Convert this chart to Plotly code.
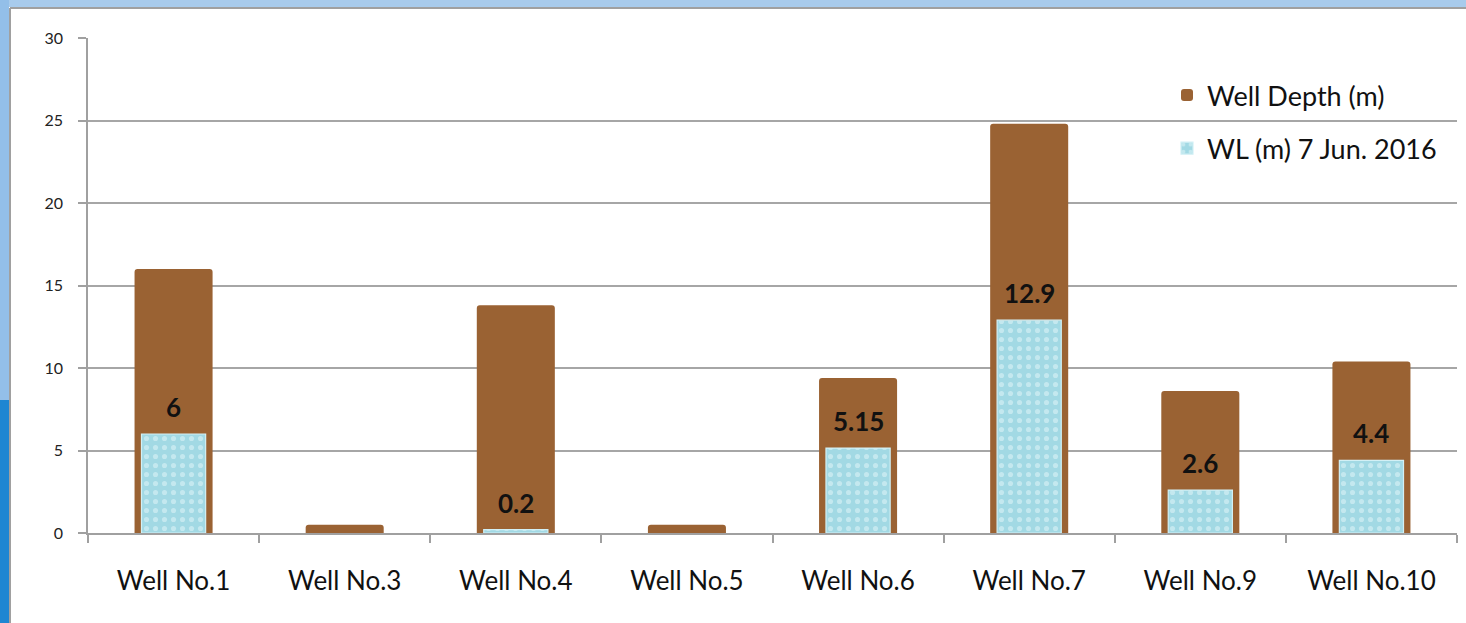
import plotly.graph_objects as go

wells = ["Well No.1", "Well No.3", "Well No.4", "Well No.5", "Well No.6", "Well No.7", "Well No.9", "Well No.10"]
well_depth = [16.0, 0.5, 13.8, 0.5, 9.4, 24.8, 8.6, 10.4]
water_level = [6, None, 0.2, None, 5.15, 12.9, 2.6, 4.4]
wl_labels = ["6", "", "0.2", "", "5.15", "12.9", "2.6", "4.4"]
y_ticks = [0, 5, 10, 15, 20, 25, 30]

W, H = 1466, 623
L, R, T, B = 88, 9, 38, 90
PW, PH = W - L - R, H - T - B


def px(x):
    return (x - L) / PW


def py(y):
    return (H - B - y) / PH


fig = go.Figure()
fig.add_trace(go.Bar(
    x=wells, y=well_depth, name="Well Depth (m)", width=0.456,
    marker=dict(color="#9A6233", line=dict(width=0), cornerradius=3),
    legendgroup="a",
))
fig.add_trace(go.Bar(
    x=wells, y=water_level, name="WL (m) 7 Jun. 2016", width=0.375,
    marker=dict(color="#A6DCE6", line=dict(color="#D2F0F5", width=1.2),
                pattern=dict(shape=".", fgcolor="#E6F7FA", bgcolor="#A2D9E4", size=9, solidity=0.25)),
    legendgroup="b",
))

annotations = []
for w, v, t in zip(wells, water_level, wl_labels):
    if v is not None and t:
        annotations.append(dict(x=w, y=v, xref="x", yref="y", text=t, showarrow=False,
                                yshift=27, yanchor="middle",
                                font=dict(family="Lato", size=26, color="#111111", weight="bold")))

shapes = [
    dict(type="rect", xref="paper", yref="paper", x0=px(0), x1=px(W), y0=py(7), y1=py(0),
         fillcolor="#A8CBEC", line=dict(width=0), layer="above"),
    dict(type="rect", xref="paper", yref="paper", x0=px(0), x1=px(9), y0=py(400), y1=py(0),
         fillcolor="#93BFE9", line=dict(width=0), layer="above"),
    dict(type="rect", xref="paper", yref="paper", x0=px(0), x1=px(9), y0=py(H), y1=py(400),
         fillcolor="#1E86D2", line=dict(width=0), layer="above"),
    dict(type="line", xref="paper", yref="paper", x0=px(10), x1=px(10), y0=py(H), y1=py(8),
         line=dict(color="#A0A0A0", width=2), layer="above"),
    dict(type="line", xref="paper", yref="paper", x0=px(10), x1=px(W), y0=py(8), y1=py(8),
         line=dict(color="#A0A0A0", width=2), layer="above"),
]

fig.update_layout(
    width=W, height=H,
    margin=dict(l=L, r=R, t=T, b=B),
    paper_bgcolor="white", plot_bgcolor="white",
    barmode="overlay",
    font=dict(family="Lato", color="#1a1a1a"),
    xaxis=dict(
        type="category", tickson="boundaries", ticks="outside", ticklen=8,
        tickcolor="#A0A0A0", tickwidth=1.5, showline=True, linecolor="#A0A0A0", linewidth=1.5,
        showgrid=False, tickfont=dict(family="Lato", size=26, color="#111111"),
        ticklabelstandoff=24,
    ),
    yaxis=dict(
        range=[0, 30], tickvals=y_ticks, ticks="outside", ticklen=8,
        tickcolor="#A0A0A0", tickwidth=1.5, showline=True, linecolor="#A0A0A0", linewidth=1.5,
        showgrid=True, gridcolor="#A6A6A6", gridwidth=1.5, zeroline=False,
        tickfont=dict(family="Lato", size=16, color="#222222"), ticklabelstandoff=12,
    ),
    legend=dict(x=px(1167), y=py(71), xanchor="left", yanchor="top",
                bgcolor="rgba(0,0,0,0)", font=dict(family="Lato", size=27, color="#111111"),
                tracegroupgap=15, traceorder="grouped"),
    annotations=annotations,
    shapes=shapes,
)

fig.write_html("out.html", config={"displayModeBar": False},
               post_script="document.body.style.margin='0';")
